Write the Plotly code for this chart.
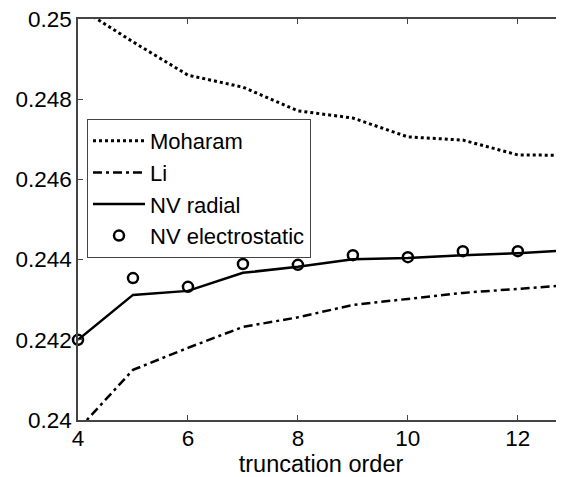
import plotly.graph_objects as go

x_lines = [4, 5, 6, 7, 8, 9, 10, 11, 12, 13]
moharam = [0.2503, 0.24943, 0.24860, 0.24830, 0.24771, 0.24753, 0.24706, 0.24698, 0.24661, 0.24660]
li = [0.23976, 0.24125, 0.24180, 0.24232, 0.24256, 0.24287, 0.24302, 0.24317, 0.24327, 0.24337]
nv_radial = [0.24200, 0.24312, 0.24322, 0.24367, 0.24382, 0.24401, 0.24404, 0.24411, 0.24416, 0.24424]
x_es = [4, 5, 6, 7, 8, 9, 10, 11, 12]
nv_electrostatic = [0.24200, 0.24354, 0.24332, 0.24389, 0.24387, 0.24411, 0.24406, 0.24421, 0.24421]

y_ticks = [0.24, 0.242, 0.244, 0.246, 0.248, 0.25]
y_tick_labels = ["0.24", "0.242", "0.244", "0.246", "0.248", "0.25"]
x_ticks = [4, 6, 8, 10, 12]

FONT = "Liberation Sans, Arial, sans-serif"
FS = 23.5
TFS = 22.5
fig = go.Figure()
fig.add_trace(go.Scatter(x=x_lines, y=moharam, mode="lines", name="Moharam",
                         line=dict(color="black", width=3, dash="3px,3px")))
fig.add_trace(go.Scatter(x=x_lines, y=li, mode="lines", name="Li",
                         line=dict(color="black", width=2.5, dash="9px,4px,3px,4px")))
fig.add_trace(go.Scatter(x=x_lines, y=nv_radial, mode="lines", name="NV radial",
                         line=dict(color="black", width=2.5)))
fig.add_trace(go.Scatter(x=x_es, y=nv_electrostatic, mode="markers", name="NV electrostatic",
                         cliponaxis=False,
                         marker=dict(symbol="circle-open", size=10, color="black",
                                     line=dict(width=2.5, color="black"))))

# the page body has an 8px margin; margins below compensate for it
fig.update_layout(
    width=564, height=477,
    margin=dict(l=70, r=8, t=11, b=65),
    paper_bgcolor="white", plot_bgcolor="white",
    font=dict(family=FONT, size=FS, color="black"),
    showlegend=True,
    legend=dict(x=0.0185, y=0.7506, xanchor="left", yanchor="top",
                bgcolor="white", bordercolor="#444", borderwidth=1,
                font=dict(family=FONT, size=22, color="black"),
                tracegroupgap=0, itemwidth=52),
    xaxis=dict(range=[4, 12.84], tickvals=x_ticks, ticks="inside", ticklen=5,
               tickcolor="#444", showline=True, linecolor="#444", linewidth=1.5,
               mirror="ticks", showgrid=False, zeroline=False, automargin=True,
               ticklabelstandoff=-3,
               title=dict(text="truncation order", font=dict(size=FS), standoff=0),
               tickfont=dict(size=TFS)),
    yaxis=dict(range=[0.24, 0.25], tickvals=y_ticks, ticktext=y_tick_labels,
               ticks="inside", ticklen=5, tickcolor="#444", showline=True,
               linecolor="#444", linewidth=1.5, showgrid=False, zeroline=False,
               automargin=False, ticklabeloverflow="allow", tickfont=dict(size=TFS)),
)
fig.write_html("out.html")
